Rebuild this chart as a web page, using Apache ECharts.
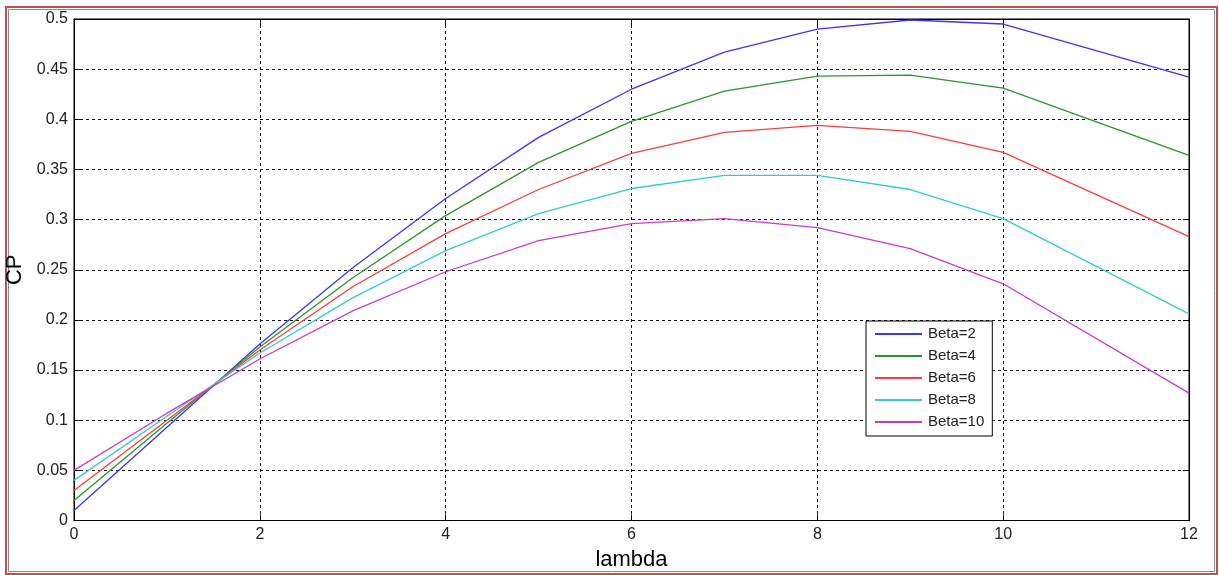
<!DOCTYPE html>
<html>
<head>
<meta charset="utf-8">
<script src="https://cdn.jsdelivr.net/npm/echarts@6/dist/echarts.min.js"></script>
<style>
html,body{margin:0;padding:0;background:#fff;}
#chart{width:1219px;height:575px;}
</style>
</head>
<body>
<div id="chart"></div>
<script>
// ---- data ----
var lambda = [0, 1, 2, 3, 4, 5, 6, 7, 8, 9, 10, 12];
var beta2  = [0.010, 0.093, 0.176, 0.252, 0.321, 0.382, 0.430, 0.467, 0.490, 0.499, 0.495, 0.442];
var beta4  = [0.020, 0.097, 0.173, 0.242, 0.304, 0.357, 0.398, 0.428, 0.443, 0.444, 0.431, 0.364];
var beta6  = [0.030, 0.100, 0.170, 0.233, 0.286, 0.330, 0.366, 0.387, 0.394, 0.388, 0.367, 0.283];
var beta8  = [0.040, 0.104, 0.167, 0.222, 0.269, 0.306, 0.331, 0.344, 0.344, 0.330, 0.301, 0.206];
var beta10 = [0.050, 0.107, 0.161, 0.209, 0.248, 0.279, 0.296, 0.301, 0.292, 0.271, 0.236, 0.127];
var seriesNames = ['Beta=2', 'Beta=4', 'Beta=6', 'Beta=8', 'Beta=10'];
var xTickLabels = ['0', '2', '4', '6', '8', '10', '12'];
var yTickLabels = ['0', '0.05', '0.1', '0.15', '0.2', '0.25', '0.3', '0.35', '0.4', '0.45', '0.5'];

var colors = ['#3636ff', '#2a962a', '#ff3b3b', '#33cccc', '#cc3acc'];
var allSeries = [beta2, beta4, beta6, beta8, beta10];

function pairs(ys) { return lambda.map(function (x, i) { return [x, ys[i]]; }); }
function yFmt(v) { return yTickLabels[Math.round(v / 0.05)]; }
function xFmt(v) { return xTickLabels[Math.round(v / 2)]; }

var font = 'Liberation Sans, Arial, sans-serif';
var grid = { left: 74, top: 19, right: 30, bottom: 54.5, show: true, borderColor: '#000', borderWidth: 1,
             containLabel: false, outerBoundsMode: 'none' };

var gridLine = { show: true, lineStyle: { color: '#111', type: [3, 3], width: 1 } };

var option = {
  backgroundColor: '#fff',
  animation: false,
  color: colors,
  grid: grid,
  graphic: [
    { type: 'rect', shape: { x: 6, y: 7, width: 1211, height: 567 }, style: { fill: 'none', stroke: '#c0504d', lineWidth: 2 }, silent: true },
    { type: 'rect', shape: { x: 8.5, y: 9.5, width: 1206, height: 562 }, style: { fill: 'none', stroke: '#8a8a8a', lineWidth: 1 }, silent: true }
  ],
  legend: {
    orient: 'vertical',
    left: 866, top: 321,
    padding: [5, 8, 6, 9],
    itemWidth: 47, itemHeight: 2, itemGap: 6,
    icon: 'rect',
    backgroundColor: '#fff',
    borderColor: '#000', borderWidth: 1,
    data: seriesNames,
    textStyle: { fontFamily: font, fontSize: 15, color: '#222', lineHeight: 16, padding: [0, 0, 0, 1] }
  },
  xAxis: [
    {
      type: 'value', min: 0, max: 12, interval: 2, position: 'bottom',
      name: 'lambda', nameLocation: 'middle', nameGap: 28,
      nameTextStyle: { fontFamily: font, fontSize: 22, color: '#000' },
      axisLine: { show: true, onZero: false, lineStyle: { color: '#000', width: 1 } },
      axisTick: { show: true, inside: true, length: 6, lineStyle: { color: '#000' } },
      axisLabel: { formatter: xFmt, fontFamily: font, fontSize: 16, color: '#222', margin: 6 },
      splitLine: gridLine
    },
    {
      type: 'value', min: 0, max: 12, interval: 2, position: 'top',
      axisLine: { show: true, onZero: false, lineStyle: { color: '#000', width: 1 } },
      axisTick: { show: true, inside: true, length: 6, lineStyle: { color: '#000' } },
      axisLabel: { show: false }, splitLine: { show: false }
    }
  ],
  yAxis: [
    {
      type: 'value', min: 0, max: 0.5, interval: 0.05, position: 'left',
      name: 'CP', nameLocation: 'middle', nameGap: 46, nameRotate: 90,
      nameTextStyle: { fontFamily: font, fontSize: 22, color: '#000' },
      axisLine: { show: true, onZero: false, lineStyle: { color: '#000', width: 1 } },
      axisTick: { show: true, inside: true, length: 6, lineStyle: { color: '#000' } },
      axisLabel: { formatter: yFmt, fontFamily: font, fontSize: 16, color: '#222', margin: 6 },
      splitLine: gridLine
    },
    {
      type: 'value', min: 0, max: 0.5, interval: 0.05, position: 'right',
      axisLine: { show: true, onZero: false, lineStyle: { color: '#000', width: 1 } },
      axisTick: { show: true, inside: true, length: 6, lineStyle: { color: '#000' } },
      axisLabel: { show: false }, splitLine: { show: false }
    }
  ],
  series: allSeries.map(function (ys, i) {
    return {
      name: seriesNames[i], type: 'line', xAxisIndex: 0, yAxisIndex: 0,
      data: pairs(ys), showSymbol: false, symbol: 'none',
      lineStyle: { color: colors[i], width: 1.3 },
      itemStyle: { color: colors[i] },
      z: 3
    };
  })
};

var chart = echarts.init(document.getElementById('chart'), null, { renderer: 'canvas' });
chart.setOption(option);
</script>
</body>
</html>
